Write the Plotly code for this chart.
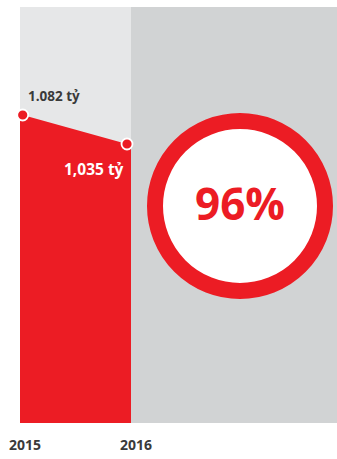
import plotly.graph_objects as go

# Data
years = [2015, 2016]
values = [1.082, 1.035]
value_labels = ["1.082 tỷ", "1,035 tỷ"]
year_labels = ["2015", "2016"]
ratio_label = "96%"

RED = "#ec1c24"
LIGHT = "#e6e7e8"
DARK = "#d1d3d4"
TEXT = "#3a3a3a"
FONT = "Open Sans"

W, H = 337, 459
ML, MR, MT, MB = 20, 0, 7, 36
plot_w = W - ML - MR
plot_h = H - MT - MB

# Axis scale: pixels per year / per value unit
ppy = 104.3
ppu = 617.0
x_lo = years[0] - 2.7 / ppy
x_hi = x_lo + plot_w / ppy
y_hi = values[0] + 108 / ppu
y_lo = y_hi - plot_h / ppu
split_x = years[1] + 4 / ppy  # boundary between the two panels

fig = go.Figure()

# Red area under the line, extended to the panel edges
fig.add_trace(go.Scatter(
    x=[x_lo] + years + [split_x],
    y=[values[0]] + values + [values[-1]],
    mode="lines", line=dict(width=0, color=RED),
    fill="tozeroy", fillcolor=RED, hoverinfo="skip", showlegend=False,
))

# Data points
fig.add_trace(go.Scatter(
    x=years, y=values, mode="markers",
    marker=dict(size=11, color=RED, line=dict(color="white", width=1.8)),
    cliponaxis=False, showlegend=False,
))

shapes = [
    dict(type="rect", xref="x", yref="paper", x0=split_x, x1=x_hi, y0=0, y1=1,
         fillcolor=DARK, line=dict(width=0), layer="below"),
]

# Ring with percentage
cx = (240 - ML) / plot_w
cy = (H - MB - 206) / plot_h
r = 85
shapes.append(dict(
    type="circle", xref="paper", yref="paper", xsizemode="pixel", ysizemode="pixel",
    xanchor=cx, yanchor=cy, x0=-r, x1=r, y0=-r, y1=r,
    fillcolor="white", line=dict(color=RED, width=16), layer="above",
))

annotations = [
    dict(x=years[0], y=values[0], xref="x", yref="y", text=value_labels[0],
         showarrow=False, xanchor="left", yanchor="middle", xshift=3, yshift=19,
         font=dict(family=FONT, size=13.5, color=TEXT, weight="bold")),
    dict(x=years[1], y=values[1], xref="x", yref="y", text=value_labels[1],
         showarrow=False, xanchor="right", yanchor="middle", xshift=-1, yshift=-25,
         font=dict(family=FONT, size=15.5, color="white", weight="bold")),
    dict(x=cx, y=(H - MB - 203) / plot_h, xref="paper", yref="paper", text=ratio_label,
         showarrow=False, xanchor="center", yanchor="middle",
         font=dict(family=FONT, size=44, color=RED, weight="bold")),
]

# Year labels under the chart
for yr, lab, dx in zip(years, year_labels, [2, 9]):
    annotations.append(dict(
        x=yr, y=0, xref="x", yref="paper", text=lab, showarrow=False,
        xanchor="center", yanchor="middle", xshift=dx, yshift=-21,
        font=dict(family=FONT, size=14, color=TEXT, weight="bold"),
    ))

fig.update_layout(
    width=W, height=H,
    margin=dict(l=ML, r=MR, t=MT, b=MB, pad=0),
    paper_bgcolor="white", plot_bgcolor=LIGHT,
    xaxis=dict(range=[x_lo, x_hi], visible=False, fixedrange=True),
    yaxis=dict(range=[y_lo, y_hi], visible=False, fixedrange=True),
    shapes=shapes, annotations=annotations, showlegend=False,
)

fig.write_html("out.html", config={"displayModeBar": False})
